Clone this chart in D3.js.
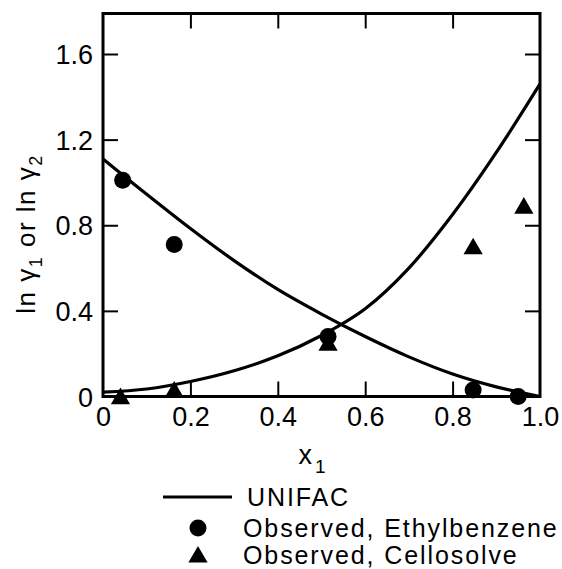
<!DOCTYPE html>
<html>
<head>
<meta charset="utf-8">
<script src="https://cdn.jsdelivr.net/npm/d3@7"></script>
<style>
  html, body { margin: 0; padding: 0; background: #fff; }
  svg { display: block; font-family: "Liberation Sans", Arial, sans-serif; }
</style>
</head>
<body>
<svg id="chart" width="562" height="569"></svg>
<script>
// ---- data ----
const curveX = [0, 0.1, 0.2, 0.3, 0.4, 0.5, 0.6, 0.7, 0.8, 0.9, 1.0];
const unifacLnG1 = [1.11, 0.945, 0.785, 0.635, 0.50, 0.385, 0.28, 0.185, 0.105, 0.045, 0.0];
const unifacLnG2 = [0.02, 0.035, 0.07, 0.12, 0.19, 0.285, 0.41, 0.60, 0.85, 1.14, 1.46];

const ethylX = [0.045, 0.163, 0.515, 0.847, 0.95];
const ethylY = [1.01, 0.71, 0.28, 0.03, 0.0];
const celloX = [0.04, 0.163, 0.515, 0.847, 0.963];
const celloY = [-0.01, 0.02, 0.24, 0.69, 0.88];

const xTicks = [0, 0.2, 0.4, 0.6, 0.8, 1.0];
const xTickLabels = ["0", "0.2", "0.4", "0.6", "0.8", "1.0"];
const yTicks = [0, 0.4, 0.8, 1.2, 1.6];
const yTickLabels = ["0", "0.4", "0.8", "1.2", "1.6"];
const legendLabels = ["UNIFAC", "Observed, Ethylbenzene", "Observed, Cellosolve"];

// ---- layout ----
const svg = d3.select("#chart");
const mLeft = 103, mRight = 540, mTop = 13.5, mBottom = 396.5;
const x = d3.scaleLinear().domain([0, 1]).range([mLeft, mRight]);
const y = d3.scaleLinear().domain([0, 1.6]).range([mBottom, 54]);
const FONT = 27;
const ink = "#000";

// inner ticks on all four sides
const tickLen = 15;
const fmtX = d => xTickLabels[xTicks.indexOf(d)];
const fmtY = d => yTickLabels[yTicks.indexOf(d)];

const gB = svg.append("g").attr("transform", `translate(0,${mBottom})`)
  .call(d3.axisBottom(x).tickValues(xTicks).tickSize(-tickLen).tickPadding(8).tickFormat(fmtX));
const gT = svg.append("g").attr("transform", `translate(0,${mTop})`)
  .call(d3.axisTop(x).tickValues(xTicks.slice(1, -1)).tickSize(-tickLen).tickFormat(""));
const gL = svg.append("g").attr("transform", `translate(${mLeft},0)`)
  .call(d3.axisLeft(y).tickValues(yTicks).tickSize(-tickLen).tickPadding(10).tickFormat(fmtY));
const gR = svg.append("g").attr("transform", `translate(${mRight},0)`)
  .call(d3.axisRight(y).tickValues(yTicks.slice(1)).tickSize(-tickLen).tickFormat(""));

[gB, gT, gL, gR].forEach(g => {
  g.select(".domain").remove();
  g.selectAll(".tick line").attr("stroke", ink).attr("stroke-width", 2);
  g.selectAll(".tick text").attr("fill", ink).style("font-size", FONT + "px")
    .style("font-family", '"Liberation Sans", Arial, sans-serif');
});
gB.selectAll(".tick").filter(d => d === 0 || d === 1).select("line").remove();
gL.selectAll(".tick").filter(d => d === 0).select("line").remove();
gB.selectAll(".tick text").attr("dy", "0.71em").attr("y", 10);
gL.selectAll(".tick text").attr("dy", "0.36em");

// frame
svg.append("rect")
  .attr("x", mLeft).attr("y", mTop)
  .attr("width", mRight - mLeft).attr("height", mBottom - mTop)
  .attr("fill", "none").attr("stroke", ink).attr("stroke-width", 3);

// UNIFAC curves
const line = d3.line().curve(d3.curveCatmullRom.alpha(0.5)).x(d => x(d[0])).y(d => y(d[1]));
[unifacLnG1, unifacLnG2].forEach(vals => {
  svg.append("path")
    .datum(curveX.map((cx, i) => [cx, vals[i]]))
    .attr("d", line)
    .attr("fill", "none").attr("stroke", ink).attr("stroke-width", 3.2);
});

// observed points
const circleSym = d3.symbol().type(d3.symbolCircle).size(Math.PI * 8.5 * 8.5);
const triSym = d3.symbol().type(d3.symbolTriangle).size(160);
svg.append("g").selectAll("path").data(ethylX.map((v, i) => [v, ethylY[i]]))
  .join("path").attr("d", circleSym)
  .attr("transform", d => `translate(${x(d[0])},${y(d[1])})`).attr("fill", ink);
svg.append("g").selectAll("path").data(celloX.map((v, i) => [v, celloY[i]]))
  .join("path").attr("d", triSym)
  .attr("transform", d => `translate(${x(d[0])},${y(d[1])})`).attr("fill", ink);

// axis titles
const xt = svg.append("text").attr("x", 312).attr("y", 464)
  .attr("text-anchor", "middle").style("font-size", FONT + "px").attr("fill", ink);
xt.append("tspan").text("x");
xt.append("tspan").attr("dy", 9).attr("dx", 3).style("font-size", "19px").text("1");

const yt = svg.append("text")
  .attr("transform", "translate(35,234) rotate(-90)")
  .attr("text-anchor", "middle").style("font-size", "26px").attr("fill", ink)
  .style("letter-spacing", "1.5px");
yt.append("tspan").text("ln ");
yt.append("tspan").text("γ");
yt.append("tspan").attr("dy", 7).style("font-size", "18px").text("1");
yt.append("tspan").attr("dy", -7).text(" or ln ");
yt.append("tspan").text("γ");
yt.append("tspan").attr("dy", 7).style("font-size", "18px").text("2");

// legend
const legY = [497, 528, 555];
svg.append("line").attr("x1", 163).attr("x2", 232).attr("y1", legY[0]).attr("y2", legY[0])
  .attr("stroke", ink).attr("stroke-width", 3);
svg.append("path").attr("d", circleSym).attr("transform", `translate(198,${legY[1]})`).attr("fill", ink);
svg.append("path").attr("d", triSym).attr("transform", `translate(198,${legY[2] + 2})`).attr("fill", ink);
svg.append("g").selectAll("text").data(legendLabels).join("text")
  .attr("x", (d, i) => i === 0 ? 247 : 243)
  .attr("y", (d, i) => legY[i])
  .attr("dy", "0.36em")
  .style("font-size", "25px").style("letter-spacing", "1.9px").attr("fill", ink)
  .text(d => d);
</script>
</body>
</html>
